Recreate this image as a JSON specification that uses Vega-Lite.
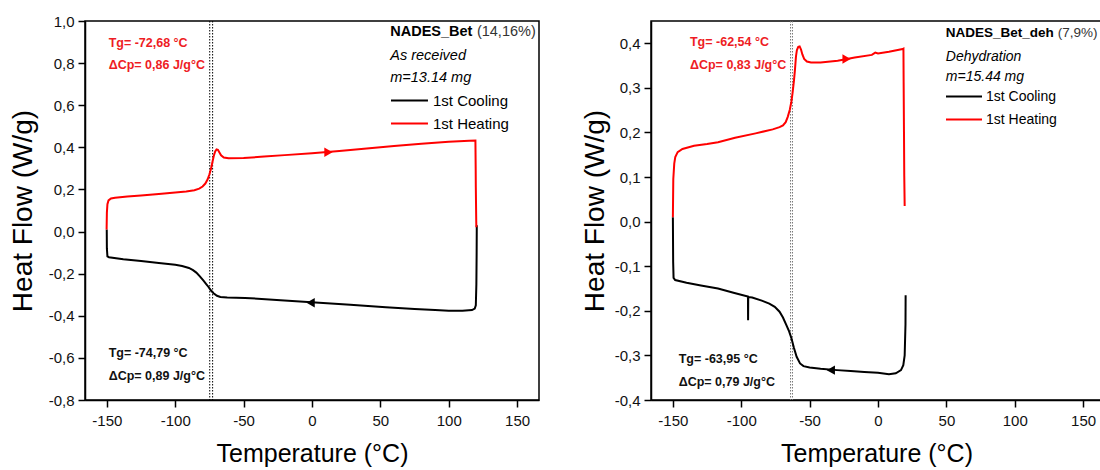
{
  "$schema": "https://vega.github.io/schema/vega-lite/v6.json",
  "padding": {"left": 8, "top": 13, "right": 0, "bottom": 0},
  "spacing": 40,
  "background": "#ffffff",
  "config": {
    "font": "Liberation Sans",
    "view": {"stroke": "#000000", "strokeWidth": 1.5},
    "axis": {
      "grid": false,
      "domainColor": "#000000",
      "domainWidth": 1.5,
      "tickColor": "#000000",
      "tickWidth": 1.5,
      "labelColor": "#111111",
      "labelFont": "Liberation Sans",
      "labelFontSize": 15,
      "titleFont": "Liberation Sans",
      "titleFontWeight": "normal",
      "titleColor": "#000000",
      "labelOverlap": false,
      "labelFlush": false
    },
    "legend": {"padding": 0}
  },
  "resolve": {"scale": {"color": "independent"}, "legend": {"color": "independent"}},
  "datasets": {
    "left_curves": [
      {"series": "1st Cooling", "i": 0, "T": 120.5, "v": 0.03},
      {"series": "1st Cooling", "i": 1, "T": 120.4, "v": -0.1},
      {"series": "1st Cooling", "i": 2, "T": 120.2, "v": -0.25},
      {"series": "1st Cooling", "i": 3, "T": 119.8, "v": -0.35},
      {"series": "1st Cooling", "i": 4, "T": 119, "v": -0.366},
      {"series": "1st Cooling", "i": 5, "T": 117, "v": -0.373},
      {"series": "1st Cooling", "i": 6, "T": 110, "v": -0.376},
      {"series": "1st Cooling", "i": 7, "T": 100, "v": -0.376},
      {"series": "1st Cooling", "i": 8, "T": 90, "v": -0.373},
      {"series": "1st Cooling", "i": 9, "T": 75, "v": -0.368},
      {"series": "1st Cooling", "i": 10, "T": 54, "v": -0.36},
      {"series": "1st Cooling", "i": 11, "T": 28, "v": -0.348},
      {"series": "1st Cooling", "i": 12, "T": 2.5, "v": -0.337},
      {"series": "1st Cooling", "i": 13, "T": -23, "v": -0.326},
      {"series": "1st Cooling", "i": 14, "T": -49, "v": -0.315},
      {"series": "1st Cooling", "i": 15, "T": -62, "v": -0.313},
      {"series": "1st Cooling", "i": 16, "T": -67, "v": -0.311},
      {"series": "1st Cooling", "i": 17, "T": -69.5, "v": -0.305},
      {"series": "1st Cooling", "i": 18, "T": -72, "v": -0.293},
      {"series": "1st Cooling", "i": 19, "T": -74, "v": -0.279},
      {"series": "1st Cooling", "i": 20, "T": -75.8, "v": -0.262},
      {"series": "1st Cooling", "i": 21, "T": -77.5, "v": -0.248},
      {"series": "1st Cooling", "i": 22, "T": -79.5, "v": -0.232},
      {"series": "1st Cooling", "i": 23, "T": -82, "v": -0.213},
      {"series": "1st Cooling", "i": 24, "T": -84.6, "v": -0.195},
      {"series": "1st Cooling", "i": 25, "T": -87, "v": -0.183},
      {"series": "1st Cooling", "i": 26, "T": -90, "v": -0.173},
      {"series": "1st Cooling", "i": 27, "T": -95, "v": -0.164},
      {"series": "1st Cooling", "i": 28, "T": -100, "v": -0.158},
      {"series": "1st Cooling", "i": 29, "T": -112, "v": -0.149},
      {"series": "1st Cooling", "i": 30, "T": -125, "v": -0.14},
      {"series": "1st Cooling", "i": 31, "T": -138, "v": -0.131},
      {"series": "1st Cooling", "i": 32, "T": -148.5, "v": -0.122},
      {"series": "1st Cooling", "i": 33, "T": -149.6, "v": -0.118},
      {"series": "1st Cooling", "i": 34, "T": -150, "v": -0.08},
      {"series": "1st Cooling", "i": 35, "T": -150.1, "v": 0.01},
      {"series": "1st Heating", "i": 0, "T": -150.2, "v": 0.01},
      {"series": "1st Heating", "i": 1, "T": -150, "v": 0.09},
      {"series": "1st Heating", "i": 2, "T": -149.6, "v": 0.13},
      {"series": "1st Heating", "i": 3, "T": -148.8, "v": 0.148},
      {"series": "1st Heating", "i": 4, "T": -147, "v": 0.157},
      {"series": "1st Heating", "i": 5, "T": -144, "v": 0.161},
      {"series": "1st Heating", "i": 6, "T": -135, "v": 0.166},
      {"series": "1st Heating", "i": 7, "T": -125, "v": 0.171},
      {"series": "1st Heating", "i": 8, "T": -112, "v": 0.178},
      {"series": "1st Heating", "i": 9, "T": -100, "v": 0.186},
      {"series": "1st Heating", "i": 10, "T": -92, "v": 0.19},
      {"series": "1st Heating", "i": 11, "T": -86, "v": 0.196},
      {"series": "1st Heating", "i": 12, "T": -82.5, "v": 0.204},
      {"series": "1st Heating", "i": 13, "T": -80, "v": 0.214},
      {"series": "1st Heating", "i": 14, "T": -78, "v": 0.228},
      {"series": "1st Heating", "i": 15, "T": -76.3, "v": 0.248},
      {"series": "1st Heating", "i": 16, "T": -75, "v": 0.272},
      {"series": "1st Heating", "i": 17, "T": -73.8, "v": 0.3},
      {"series": "1st Heating", "i": 18, "T": -72.8, "v": 0.33},
      {"series": "1st Heating", "i": 19, "T": -71.8, "v": 0.36},
      {"series": "1st Heating", "i": 20, "T": -70.8, "v": 0.38},
      {"series": "1st Heating", "i": 21, "T": -69.8, "v": 0.39},
      {"series": "1st Heating", "i": 22, "T": -68.8, "v": 0.388},
      {"series": "1st Heating", "i": 23, "T": -67.8, "v": 0.377},
      {"series": "1st Heating", "i": 24, "T": -66.5, "v": 0.362},
      {"series": "1st Heating", "i": 25, "T": -64.5, "v": 0.352},
      {"series": "1st Heating", "i": 26, "T": -61, "v": 0.348},
      {"series": "1st Heating", "i": 27, "T": -50, "v": 0.349},
      {"series": "1st Heating", "i": 28, "T": -35, "v": 0.356},
      {"series": "1st Heating", "i": 29, "T": -20, "v": 0.363},
      {"series": "1st Heating", "i": 30, "T": 0, "v": 0.372},
      {"series": "1st Heating", "i": 31, "T": 20, "v": 0.383},
      {"series": "1st Heating", "i": 32, "T": 40, "v": 0.394},
      {"series": "1st Heating", "i": 33, "T": 60, "v": 0.406},
      {"series": "1st Heating", "i": 34, "T": 80, "v": 0.417},
      {"series": "1st Heating", "i": 35, "T": 100, "v": 0.426},
      {"series": "1st Heating", "i": 36, "T": 115, "v": 0.431},
      {"series": "1st Heating", "i": 37, "T": 119.5, "v": 0.432},
      {"series": "1st Heating", "i": 38, "T": 119.7, "v": 0.3},
      {"series": "1st Heating", "i": 39, "T": 119.8, "v": 0.21},
      {"series": "1st Heating", "i": 40, "T": 120.1, "v": 0.05},
      {"series": "1st Heating", "i": 41, "T": 120.2, "v": 0.02}
    ],
    "right_curves": [
      {"series": "1st Cooling", "i": 0, "T": 20.2, "v": -0.165},
      {"series": "1st Cooling", "i": 1, "T": 20.1, "v": -0.23},
      {"series": "1st Cooling", "i": 2, "T": 19.5, "v": -0.3},
      {"series": "1st Cooling", "i": 3, "T": 18.5, "v": -0.322},
      {"series": "1st Cooling", "i": 4, "T": 16.8, "v": -0.333},
      {"series": "1st Cooling", "i": 5, "T": 13, "v": -0.34},
      {"series": "1st Cooling", "i": 6, "T": 8, "v": -0.342},
      {"series": "1st Cooling", "i": 7, "T": 0, "v": -0.339},
      {"series": "1st Cooling", "i": 8, "T": -10, "v": -0.337},
      {"series": "1st Cooling", "i": 9, "T": -20, "v": -0.335},
      {"series": "1st Cooling", "i": 10, "T": -30, "v": -0.333},
      {"series": "1st Cooling", "i": 11, "T": -42, "v": -0.33},
      {"series": "1st Cooling", "i": 12, "T": -50, "v": -0.327},
      {"series": "1st Cooling", "i": 13, "T": -54.5, "v": -0.324},
      {"series": "1st Cooling", "i": 14, "T": -57, "v": -0.318},
      {"series": "1st Cooling", "i": 15, "T": -59.5, "v": -0.303},
      {"series": "1st Cooling", "i": 16, "T": -61.5, "v": -0.283},
      {"series": "1st Cooling", "i": 17, "T": -63.25, "v": -0.262},
      {"series": "1st Cooling", "i": 18, "T": -65, "v": -0.246},
      {"series": "1st Cooling", "i": 19, "T": -67, "v": -0.232},
      {"series": "1st Cooling", "i": 20, "T": -69.5, "v": -0.215},
      {"series": "1st Cooling", "i": 21, "T": -72, "v": -0.202},
      {"series": "1st Cooling", "i": 22, "T": -75.5, "v": -0.191},
      {"series": "1st Cooling", "i": 23, "T": -79.5, "v": -0.184},
      {"series": "1st Cooling", "i": 24, "T": -85, "v": -0.177},
      {"series": "1st Cooling", "i": 25, "T": -92, "v": -0.17},
      {"series": "1st Cooling", "i": 26, "T": -94.9, "v": -0.169},
      {"series": "1st Cooling", "i": 27, "T": -95, "v": -0.221},
      {"series": "1st Cooling", "i": 28, "T": -95.1, "v": -0.168},
      {"series": "1st Cooling", "i": 29, "T": -105, "v": -0.16},
      {"series": "1st Cooling", "i": 30, "T": -117, "v": -0.15},
      {"series": "1st Cooling", "i": 31, "T": -129.5, "v": -0.143},
      {"series": "1st Cooling", "i": 32, "T": -140, "v": -0.137},
      {"series": "1st Cooling", "i": 33, "T": -148.3, "v": -0.131},
      {"series": "1st Cooling", "i": 34, "T": -149.5, "v": -0.126},
      {"series": "1st Cooling", "i": 35, "T": -149.8, "v": -0.09},
      {"series": "1st Cooling", "i": 36, "T": -150, "v": 0.01},
      {"series": "1st Heating", "i": 0, "T": -150, "v": 0.01},
      {"series": "1st Heating", "i": 1, "T": -149.7, "v": 0.095},
      {"series": "1st Heating", "i": 2, "T": -149, "v": 0.13},
      {"series": "1st Heating", "i": 3, "T": -148.25, "v": 0.145},
      {"series": "1st Heating", "i": 4, "T": -146.5, "v": 0.156},
      {"series": "1st Heating", "i": 5, "T": -143, "v": 0.163},
      {"series": "1st Heating", "i": 6, "T": -134.5, "v": 0.17},
      {"series": "1st Heating", "i": 7, "T": -125, "v": 0.174},
      {"series": "1st Heating", "i": 8, "T": -117, "v": 0.178},
      {"series": "1st Heating", "i": 9, "T": -104.5, "v": 0.188},
      {"series": "1st Heating", "i": 10, "T": -89.5, "v": 0.198},
      {"series": "1st Heating", "i": 11, "T": -77, "v": 0.207},
      {"series": "1st Heating", "i": 12, "T": -72, "v": 0.212},
      {"series": "1st Heating", "i": 13, "T": -69.5, "v": 0.216},
      {"series": "1st Heating", "i": 14, "T": -67.5, "v": 0.223},
      {"series": "1st Heating", "i": 15, "T": -66, "v": 0.235},
      {"series": "1st Heating", "i": 16, "T": -64.5, "v": 0.251},
      {"series": "1st Heating", "i": 17, "T": -63.3, "v": 0.27},
      {"series": "1st Heating", "i": 18, "T": -62.5, "v": 0.288},
      {"series": "1st Heating", "i": 19, "T": -61.5, "v": 0.315},
      {"series": "1st Heating", "i": 20, "T": -60.75, "v": 0.34},
      {"series": "1st Heating", "i": 21, "T": -60, "v": 0.37},
      {"series": "1st Heating", "i": 22, "T": -59.3, "v": 0.385},
      {"series": "1st Heating", "i": 23, "T": -58.3, "v": 0.392},
      {"series": "1st Heating", "i": 24, "T": -57.3, "v": 0.393},
      {"series": "1st Heating", "i": 25, "T": -56.3, "v": 0.386},
      {"series": "1st Heating", "i": 26, "T": -55.3, "v": 0.375},
      {"series": "1st Heating", "i": 27, "T": -54, "v": 0.365},
      {"series": "1st Heating", "i": 28, "T": -52, "v": 0.359},
      {"series": "1st Heating", "i": 29, "T": -49, "v": 0.357},
      {"series": "1st Heating", "i": 30, "T": -42, "v": 0.357},
      {"series": "1st Heating", "i": 31, "T": -29.5, "v": 0.361},
      {"series": "1st Heating", "i": 32, "T": -17, "v": 0.368},
      {"series": "1st Heating", "i": 33, "T": -4.5, "v": 0.374},
      {"series": "1st Heating", "i": 34, "T": -2, "v": 0.379},
      {"series": "1st Heating", "i": 35, "T": 0, "v": 0.377},
      {"series": "1st Heating", "i": 36, "T": 8, "v": 0.381},
      {"series": "1st Heating", "i": 37, "T": 18, "v": 0.387},
      {"series": "1st Heating", "i": 38, "T": 18.6, "v": 0.388},
      {"series": "1st Heating", "i": 39, "T": 18.75, "v": 0.311},
      {"series": "1st Heating", "i": 40, "T": 19, "v": 0.2},
      {"series": "1st Heating", "i": 41, "T": 19.2, "v": 0.103},
      {"series": "1st Heating", "i": 42, "T": 19.5, "v": 0.035}
    ],
    "left_tg": [{"series": "1st Cooling", "T": -74.79}, {"series": "1st Heating", "T": -72.68}],
    "right_tg": [{"series": "1st Cooling", "T": -63.95}, {"series": "1st Heating", "T": -62.54}],
    "left_arrows": [{"series": "1st Heating", "T": 12, "v": 0.377}, {"series": "1st Cooling", "T": -1, "v": -0.338}],
    "right_arrows": [{"series": "1st Heating", "T": -23, "v": 0.365}, {"series": "1st Cooling", "T": -34.5, "v": -0.333}],
    "left_notes": [
      {"kind": "heat", "label": "Tg= -72,68 °C", "T": -148.7, "v": 0.878},
      {"kind": "heat", "label": "ΔCp= 0,86 J/g°C", "T": -148.7, "v": 0.774},
      {"kind": "cool", "label": "Tg= -74,79 °C", "T": -148.7, "v": -0.597},
      {"kind": "cool", "label": "ΔCp= 0,89 J/g°C", "T": -148.7, "v": -0.705},
      {"kind": "name", "label": "NADES_Bet", "T": 57.2, "v": 0.929},
      {"kind": "pct", "label": "(14,16%)", "T": 120.6, "v": 0.929},
      {"kind": "cond", "label": "As received", "T": 57.2, "v": 0.813},
      {"kind": "cond", "label": "m=13.14 mg", "T": 57.2, "v": 0.71}
    ],
    "right_notes": [
      {"kind": "heat", "label": "Tg= -62,54 °C", "T": -137.5, "v": 0.395},
      {"kind": "heat", "label": "ΔCp= 0,83 J/g°C", "T": -137.5, "v": 0.343},
      {"kind": "cool", "label": "Tg= -63,95 °C", "T": -145.75, "v": -0.316},
      {"kind": "cool", "label": "ΔCp= 0,79 J/g°C", "T": -145.75, "v": -0.369},
      {"kind": "name", "label": "NADES_Bet_deh", "T": 49.6, "v": 0.413},
      {"kind": "pct", "label": "(7,9%)", "T": 131.5, "v": 0.413},
      {"kind": "cond", "label": "Dehydration", "T": 49.6, "v": 0.36},
      {"kind": "cond", "label": "m=15.44 mg", "T": 49.6, "v": 0.315}
    ]
  },
  "hconcat": [
    {
      "width": 454,
      "height": 379,
      "layer": [
        {
          "data": {"name": "left_tg"},
          "mark": {"type": "rule", "color": "#000000", "strokeWidth": 1, "strokeDash": [1.5, 1.5]},
          "encoding": {"x": {"field": "T", "type": "quantitative"}}
        },
        {
          "data": {"name": "left_curves"},
          "mark": {"type": "line", "strokeWidth": 2, "interpolate": "linear"},
          "encoding": {
            "x": {
              "field": "T", "type": "quantitative",
              "scale": {"domain": [-166, 166], "nice": false, "zero": false},
              "axis": {
                "title": "Temperature (°C)", "titleFontSize": 25, "titlePadding": 13,
                "values": [-150, -125, -100, -75, -50, -25, 0, 25, 50, 75, 100, 125, 150],
                "labelExpr": "datum.value % 50 === 0 ? replace(format(datum.value, 'd'), '\u2212', '-') : ''",
                "tickSize": {"condition": {"test": "datum.value % 50 === 0", "value": 7}, "value": 4},
                "labelPadding": 6
              }
            },
            "y": {
              "field": "v", "type": "quantitative",
              "scale": {"domain": [-0.8, 1.0], "nice": false, "zero": false},
              "axis": {
                "title": "Heat Flow (W/g)", "titleFontSize": 28, "titlePadding": 11,
                "values": [-0.8, -0.7, -0.6, -0.5, -0.4, -0.3, -0.2, -0.1, 0, 0.1, 0.2, 0.3, 0.4, 0.5, 0.6, 0.7, 0.8, 0.9, 1.0],
                "labelExpr": "round(datum.value * 10) % 2 === 0 ? replace(replace(format(datum.value, '.1f'), '.', ','), '\u2212', '-') : ''",
                "tickSize": {"condition": {"test": "round(datum.value * 10) % 2 === 0", "value": 7}, "value": 4},
                "labelPadding": 4
              }
            },
            "order": {"field": "i", "type": "quantitative"},
            "color": {
              "field": "series", "type": "nominal",
              "scale": {"domain": ["1st Cooling", "1st Heating"], "range": ["#000000", "#ff0000"]},
              "legend": {
                "orient": "none", "legendX": 305, "legendY": 71, "title": null,
                "symbolType": "M-1,0H3.93", "symbolSize": 225, "symbolStrokeWidth": 2,
                "labelFontSize": 15, "labelOffset": 26, "rowPadding": 6, "labelColor": "#000000"
              }
            }
          }
        },
        {
          "data": {"name": "left_arrows"},
          "transform": [{"filter": "datum.series === '1st Heating'"}],
          "mark": {"type": "point", "shape": "triangle-right", "filled": true, "color": "#ff0000", "size": 90, "opacity": 1},
          "encoding": {"x": {"field": "T", "type": "quantitative"}, "y": {"field": "v", "type": "quantitative"}}
        },
        {
          "data": {"name": "left_arrows"},
          "transform": [{"filter": "datum.series === '1st Cooling'"}],
          "mark": {"type": "point", "shape": "triangle-left", "filled": true, "color": "#000000", "size": 90, "opacity": 1},
          "encoding": {"x": {"field": "T", "type": "quantitative"}, "y": {"field": "v", "type": "quantitative"}}
        },
        {
          "data": {"name": "left_notes"},
          "transform": [{"filter": "datum.kind === 'heat'"}],
          "mark": {"type": "text", "align": "left", "baseline": "alphabetic", "fontSize": 12.5, "fontWeight": "bold", "color": "#ee1c24"},
          "encoding": {"x": {"field": "T", "type": "quantitative"}, "y": {"field": "v", "type": "quantitative"}, "text": {"field": "label"}}
        },
        {
          "data": {"name": "left_notes"},
          "transform": [{"filter": "datum.kind === 'cool'"}],
          "mark": {"type": "text", "align": "left", "baseline": "alphabetic", "fontSize": 12.5, "fontWeight": "bold", "color": "#111111"},
          "encoding": {"x": {"field": "T", "type": "quantitative"}, "y": {"field": "v", "type": "quantitative"}, "text": {"field": "label"}}
        },
        {
          "data": {"name": "left_notes"},
          "transform": [{"filter": "datum.kind === 'name'"}],
          "mark": {"type": "text", "align": "left", "baseline": "alphabetic", "fontSize": 14.5, "fontWeight": "bold", "color": "#000000"},
          "encoding": {"x": {"field": "T", "type": "quantitative"}, "y": {"field": "v", "type": "quantitative"}, "text": {"field": "label"}}
        },
        {
          "data": {"name": "left_notes"},
          "transform": [{"filter": "datum.kind === 'pct'"}],
          "mark": {"type": "text", "align": "left", "baseline": "alphabetic", "fontSize": 14.5, "color": "#333333"},
          "encoding": {"x": {"field": "T", "type": "quantitative"}, "y": {"field": "v", "type": "quantitative"}, "text": {"field": "label"}}
        },
        {
          "data": {"name": "left_notes"},
          "transform": [{"filter": "datum.kind === 'cond'"}],
          "mark": {"type": "text", "align": "left", "baseline": "alphabetic", "fontSize": 14.5, "fontStyle": "italic", "color": "#000000"},
          "encoding": {"x": {"field": "T", "type": "quantitative"}, "y": {"field": "v", "type": "quantitative"}, "text": {"field": "label"}}
        }
      ]
    },
    {
      "width": 451,
      "height": 379,
      "layer": [
        {
          "data": {"name": "right_tg"},
          "mark": {"type": "rule", "color": "#777777", "strokeWidth": 1, "strokeDash": [1.5, 1.5]},
          "encoding": {"x": {"field": "T", "type": "quantitative"}}
        },
        {
          "data": {"name": "right_curves"},
          "mark": {"type": "line", "strokeWidth": 2, "interpolate": "linear"},
          "encoding": {
            "x": {
              "field": "T", "type": "quantitative",
              "scale": {"domain": [-166, 163.8], "nice": false, "zero": false},
              "axis": {
                "title": "Temperature (°C)", "titleFontSize": 25, "titlePadding": 13,
                "values": [-150, -125, -100, -75, -50, -25, 0, 25, 50, 75, 100, 125, 150],
                "labelExpr": "datum.value % 50 === 0 ? replace(format(datum.value, 'd'), '\u2212', '-') : ''",
                "tickSize": {"condition": {"test": "datum.value % 50 === 0", "value": 7}, "value": 4},
                "labelPadding": 6
              }
            },
            "y": {
              "field": "v", "type": "quantitative",
              "scale": {"domain": [-0.4, 0.45], "nice": false, "zero": false},
              "axis": {
                "title": "Heat Flow (W/g)", "titleFontSize": 28, "titlePadding": 5,
                "values": [-0.4, -0.35, -0.3, -0.25, -0.2, -0.15, -0.1, -0.05, 0, 0.05, 0.1, 0.15, 0.2, 0.25, 0.3, 0.35, 0.4],
                "labelExpr": "round(datum.value * 100) % 10 === 0 ? replace(replace(format(datum.value, '.1f'), '.', ','), '\u2212', '-') : ''",
                "tickSize": {"condition": {"test": "round(datum.value * 100) % 10 === 0", "value": 7}, "value": 4},
                "labelPadding": 4
              }
            },
            "order": {"field": "i", "type": "quantitative"},
            "color": {
              "field": "series", "type": "nominal",
              "scale": {"domain": ["1st Cooling", "1st Heating"], "range": ["#000000", "#ff0000"]},
              "legend": {
                "orient": "none", "legendX": 294, "legendY": 67, "title": null,
                "symbolType": "M-1,0H3.8", "symbolSize": 225, "symbolStrokeWidth": 2,
                "labelFontSize": 14, "labelOffset": 24, "rowPadding": 7, "labelColor": "#000000"
              }
            }
          }
        },
        {
          "data": {"name": "right_arrows"},
          "transform": [{"filter": "datum.series === '1st Heating'"}],
          "mark": {"type": "point", "shape": "triangle-right", "filled": true, "color": "#ff0000", "size": 90, "opacity": 1},
          "encoding": {"x": {"field": "T", "type": "quantitative"}, "y": {"field": "v", "type": "quantitative"}}
        },
        {
          "data": {"name": "right_arrows"},
          "transform": [{"filter": "datum.series === '1st Cooling'"}],
          "mark": {"type": "point", "shape": "triangle-left", "filled": true, "color": "#000000", "size": 90, "opacity": 1},
          "encoding": {"x": {"field": "T", "type": "quantitative"}, "y": {"field": "v", "type": "quantitative"}}
        },
        {
          "data": {"name": "right_notes"},
          "transform": [{"filter": "datum.kind === 'heat'"}],
          "mark": {"type": "text", "align": "left", "baseline": "alphabetic", "fontSize": 12.5, "fontWeight": "bold", "color": "#ee1c24"},
          "encoding": {"x": {"field": "T", "type": "quantitative"}, "y": {"field": "v", "type": "quantitative"}, "text": {"field": "label"}}
        },
        {
          "data": {"name": "right_notes"},
          "transform": [{"filter": "datum.kind === 'cool'"}],
          "mark": {"type": "text", "align": "left", "baseline": "alphabetic", "fontSize": 12.5, "fontWeight": "bold", "color": "#111111"},
          "encoding": {"x": {"field": "T", "type": "quantitative"}, "y": {"field": "v", "type": "quantitative"}, "text": {"field": "label"}}
        },
        {
          "data": {"name": "right_notes"},
          "transform": [{"filter": "datum.kind === 'name'"}],
          "mark": {"type": "text", "align": "left", "baseline": "alphabetic", "fontSize": 13.5, "fontWeight": "bold", "color": "#000000"},
          "encoding": {"x": {"field": "T", "type": "quantitative"}, "y": {"field": "v", "type": "quantitative"}, "text": {"field": "label"}}
        },
        {
          "data": {"name": "right_notes"},
          "transform": [{"filter": "datum.kind === 'pct'"}],
          "mark": {"type": "text", "align": "left", "baseline": "alphabetic", "fontSize": 13.5, "color": "#333333"},
          "encoding": {"x": {"field": "T", "type": "quantitative"}, "y": {"field": "v", "type": "quantitative"}, "text": {"field": "label"}}
        },
        {
          "data": {"name": "right_notes"},
          "transform": [{"filter": "datum.kind === 'cond'"}],
          "mark": {"type": "text", "align": "left", "baseline": "alphabetic", "fontSize": 14, "fontStyle": "italic", "color": "#000000"},
          "encoding": {"x": {"field": "T", "type": "quantitative"}, "y": {"field": "v", "type": "quantitative"}, "text": {"field": "label"}}
        }
      ]
    }
  ]
}
